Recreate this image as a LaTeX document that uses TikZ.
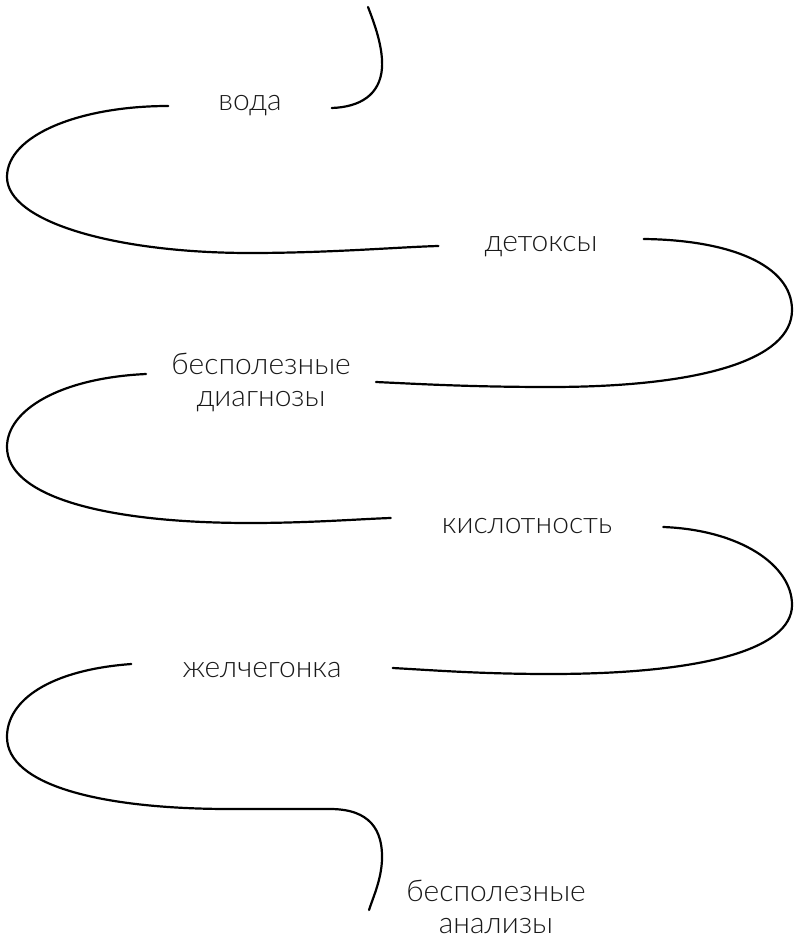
\documentclass[tikz,border=0pt]{standalone}
\usepackage{fontspec}
\setmainfont{Lato}[UprightFont={* Light}]
\begin{document}
\begin{tikzpicture}[x=1pt,y=-1pt,
    wire/.style={line width=2.2pt,line cap=round},
    word/.style={text=black!90,inner xsep=46pt,align=center,font=\fontsize{30}{32}\selectfont}]
    \useasboundingbox (0,0) rectangle (798,941);
    \coordinate (start) at (368,7);
    \coordinate (finish) at (369,910);
    \node[word,inner xsep=50pt] (voda) at (250,106) {вода};
    \node[word] (detoksy) at (541,247) {детоксы};
    \node[word,inner xsep=25pt] (diagnozy) at (261,382) {бесполезные\\диагнозы};
    \node[word,inner xsep=51pt] (kislot) at (527,526) {кислотность};
    \node[word,inner xsep=51pt] (zhelch) at (262,670) {желчегонка};
    \node[word,inner xsep=25pt] (analizy) at (496,907) {бесполезные\\анализы};
    \draw[wire] (start) .. controls (377,30) and (383,50) .. (382,68)
        .. controls (380,95) and (360,107) .. ([yshift=-2pt]voda.east);
    \draw[wire] ([yshift=0pt]voda.west) .. controls (80,106) and (7,135) .. (7,177)
        .. controls (7,222) and (116,253) .. (250,253)
        .. controls (330,253) and (400,247) .. ([yshift=1pt]detoksy.west);
    \draw[wire] ([yshift=8pt]detoksy.east) .. controls (730,240) and (792,265) .. (792,310)
        .. controls (792,360) and (700,387) .. (550,387)
        .. controls (470,387) and (420,384) .. (diagnozy.east);
    \draw[wire] ([yshift=8pt]diagnozy.west) .. controls (60,378) and (7,410) .. (7,447)
        .. controls (7,495) and (100,523) .. (250,523)
        .. controls (310,523) and (360,519) .. ([yshift=8pt]kislot.west);
    \draw[wire] ([yshift=-1pt]kislot.east) .. controls (740,530) and (792,565) .. (792,605)
        .. controls (792,650) and (700,674) .. (550,674)
        .. controls (480,674) and (430,670) .. ([yshift=2pt]zhelch.east);
    \draw[wire] ([yshift=6pt]zhelch.west) .. controls (50,670) and (7,700) .. (7,737)
        .. controls (7,785) and (100,809) .. (230,809) -- (330,809)
        .. controls (370,809) and (383,830) .. (382,860)
        .. controls (381,880) and (374,895) .. (finish);
\end{tikzpicture}
\end{document}
